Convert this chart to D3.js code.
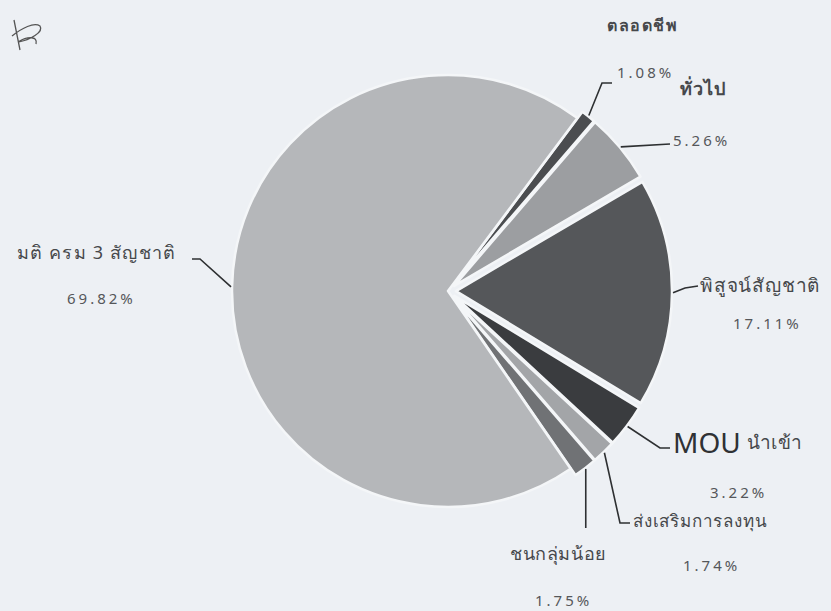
<!DOCTYPE html>
<html>
<head>
<meta charset="utf-8">
<script src="https://cdn.jsdelivr.net/npm/d3@7/dist/d3.min.js"></script>
<style>
  html, body { margin: 0; padding: 0; background: #edf0f4; }
  svg { display: block; }
  text { font-family: "Noto Sans", "DejaVu Sans", sans-serif; }
</style>
</head>
<body>
<div id="chart"></div>
<script>
// ── Data ──
const categories = ['ตลอดชีพ', 'ทั่วไป', 'พิสูจน์สัญชาติ', 'MOU นำเข้า', 'ส่งเสริมการลงทุน', 'ชนกลุ่มน้อย', 'มติ ครม 3 สัญชาติ'];
const values     = [1.08, 5.26, 17.11, 3.22, 1.74, 1.75, 69.82];
const pctLabels  = ['1.08%', '5.26%', '17.11%', '3.22%', '1.74%', '1.75%', '69.82%'];
const fills      = ['#4b4d50', '#9c9ea1', '#55575a', '#3a3c3f', '#a3a5a8', '#707275', '#b5b7ba'];

// label layout: name [x, y, size, weight, spacing], pct [x, y], leader bends
const layout = [
  { name: [607, 25, 16, 700, 1.5], pct: [617, 72], bend: [[602, 83], [612, 83]] },
  { name: [680, 88, 18, 700, 1], pct: [673, 140], bend: [[670, 144]] },
  { name: [700, 285, 19, 400, 0.8], pct: [733, 323], bend: [[685, 288], [698, 286]] },
  { name: [673, 442, 19, 400, 0.5], pct: [710, 492], bend: [[660, 448], [670, 448]] },
  { name: [633, 520, 17, 400, 0.8], pct: [683, 565], bend: [[620, 523], [630, 523]] },
  { name: [510, 553, 18, 400, 0.6], pct: [535, 600], bend: [[null, 528]] },
  { name: [17, 252, 18, 400, 1.2], pct: [67, 298], bend: [[200, 259], [192, 259]] }
];

const W = 831, H = 611;
const cx = 448, cy = 291, R = 216, explode = 8;

const svg = d3.select('#chart').append('svg')
  .attr('width', W).attr('height', H);

// handwritten mark, top-left
svg.append('path')
  .attr('d', 'M14,20 C16,30 18,40 20,50 M12,36 C22,28 34,22 40,26 C44,32 30,40 18,42 M18,42 C28,36 38,36 36,44')
  .attr('fill', 'none').attr('stroke', '#555').attr('stroke-width', 1.3);

const pie = d3.pie().sort(null).value(d => d)
  .startAngle(36.8 * Math.PI / 180)
  .endAngle(36.8 * Math.PI / 180 + 2 * Math.PI);
const arcs = pie(values);

const arc = d3.arc().innerRadius(0).outerRadius(R);
const edge = d3.arc().innerRadius(R + 1).outerRadius(R + 1);

const g = svg.append('g').attr('transform', `translate(${cx},${cy})`);

function offset(d, i) {
  if (i === values.length - 1) return [0, 0];
  const a = (d.startAngle + d.endAngle) / 2;
  return [Math.sin(a) * explode, -Math.cos(a) * explode];
}

g.selectAll('path.slice')
  .data(arcs).enter().append('path')
  .attr('class', 'slice')
  .attr('transform', (d, i) => `translate(${offset(d, i)})`)
  .attr('d', arc)
  .attr('fill', (d, i) => fills[i])
  .attr('stroke', '#f4f6f8').attr('stroke-width', 2.5)
  .attr('stroke-linejoin', 'round');

// leader lines
const line = d3.line();
arcs.forEach((d, i) => {
  const o = offset(d, i);
  const c = edge.centroid(d);
  const p0 = [cx + c[0] + o[0], cy + c[1] + o[1]];
  const pts = [p0].concat(layout[i].bend.map(b => [b[0] === null ? p0[0] : b[0], b[1]]));
  svg.append('path')
    .attr('d', line(pts))
    .attr('fill', 'none').attr('stroke', '#2e3032').attr('stroke-width', 1.6);
});

// names
layout.forEach((l, i) => {
  const t = svg.append('text')
    .attr('x', l.name[0]).attr('y', l.name[1])
    .attr('dominant-baseline', 'central')
    .attr('fill', '#46484b')
    .style('font-size', l.name[2] + 'px')
    .style('font-weight', l.name[3])
    .style('letter-spacing', l.name[4] + 'px');
  if (i === 3) {
    const parts = categories[i].split(' ');
    t.append('tspan').style('font-size', '28px').style('letter-spacing', '0px')
      .attr('fill', '#2f3134').text(parts[0]);
    t.append('tspan').attr('dx', 6).text(parts[1]);
  } else {
    t.text(categories[i]);
  }
});

// percentages
layout.forEach((l, i) => {
  svg.append('text')
    .attr('x', l.pct[0]).attr('y', l.pct[1])
    .attr('dominant-baseline', 'central')
    .attr('fill', '#55575a')
    .style('font-size', '15px')
    .style('letter-spacing', '3px')
    .text(pctLabels[i]);
});
</script>
</body>
</html>
